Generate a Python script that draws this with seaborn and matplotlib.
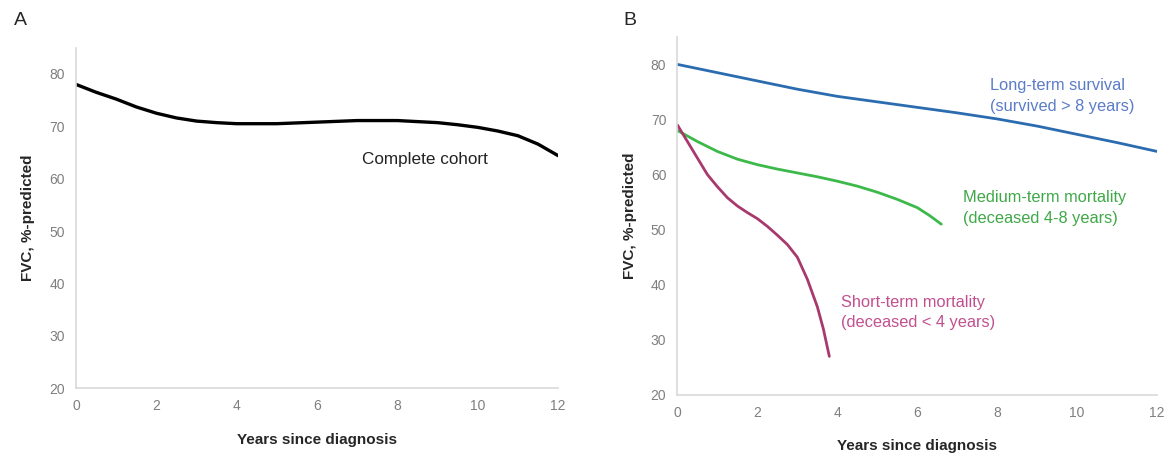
# FVC trajectories: complete cohort (A) and by survival group (B)
import pandas as pd
import matplotlib.pyplot as plt
import seaborn as sns

# panel A - complete cohort
years_all = [0, 0.5, 1, 1.5, 2, 2.5, 3, 3.5, 4, 5, 6, 7, 8, 9, 9.5, 10, 10.5, 11, 11.5, 12]
fvc_all = [78.0, 76.5, 75.2, 73.7, 72.5, 71.6, 71.0, 70.7, 70.5, 70.5, 70.8, 71.1, 71.1,
           70.7, 70.3, 69.8, 69.1, 68.2, 66.6, 64.4]

# panel B - survival groups
years_long = [0, 1, 2, 3, 4, 5, 6, 7, 8, 9, 10, 11, 12]
fvc_long = [80.0, 78.5, 77.0, 75.5, 74.2, 73.2, 72.2, 71.2, 70.1, 68.8, 67.3, 65.8, 64.2]

years_medium = [0, 0.5, 1, 1.5, 2, 2.5, 3, 3.5, 4, 4.5, 5, 5.5, 6, 6.3, 6.6]
fvc_medium = [68.0, 66.0, 64.2, 62.8, 61.8, 61.0, 60.3, 59.6, 58.8, 57.9, 56.8, 55.5, 54.0,
              52.6, 51.0]

years_short = [0, 0.25, 0.5, 0.75, 1, 1.25, 1.5, 1.75, 2, 2.25, 2.5, 2.75, 3, 3.25, 3.5,
               3.65, 3.8]
fvc_short = [69.0, 66.0, 63.0, 60.0, 57.8, 55.8, 54.3, 53.1, 52.0, 50.6, 49.0, 47.3, 45.0,
             41.0, 36.0, 32.0, 27.0]

group_names = ["Long-term survival\n(survived > 8 years)",
               "Medium-term mortality\n(deceased 4-8 years)",
               "Short-term mortality\n(deceased < 4 years)"]

x_ticks = [0, 2, 4, 6, 8, 10, 12]
y_ticks = [20, 30, 40, 50, 60, 70, 80]

sns.set_style("white")
plt.rcParams['font.family'] = ['Liberation Sans', 'DejaVu Sans']

fig = plt.figure(figsize=(11.7, 4.55), dpi=100)
ax_a = fig.add_axes([0.065, 0.147, 0.412, 0.748])
ax_b = fig.add_axes([0.579, 0.132, 0.410, 0.787])


def style_axis(ax):
    ax.set_xlim(0, 12)
    ax.set_ylim(20, 85)
    ax.set_xticks(x_ticks)
    ax.set_yticks(y_ticks)
    ax.tick_params(length=0, labelsize=10, labelcolor="#7f7f7f", pad=8)
    sns.despine(ax=ax)
    for side in ["left", "bottom"]:
        ax.spines[side].set_color("#d9d9d9")
        ax.spines[side].set_linewidth(1.2)
    ax.set_xlabel("Years since diagnosis", fontsize=11, fontweight="bold", labelpad=14)
    ax.set_ylabel("FVC, %-predicted", fontsize=11, fontweight="bold", labelpad=10)


# A
df_all = pd.DataFrame({"years": years_all, "fvc": fvc_all})
sns.lineplot(data=df_all, x="years", y="fvc", ax=ax_a, color="black", linewidth=2.4)
style_axis(ax_a)
ax_a.text(7.11, 63.7, "Complete cohort", fontsize=12.3, color="#222222", va="center")

# B
df_long = pd.DataFrame({"years": years_long, "fvc": fvc_long})
df_medium = pd.DataFrame({"years": years_medium, "fvc": fvc_medium})
df_short = pd.DataFrame({"years": years_short, "fvc": fvc_short})

line_colors = ["#2b6cb0", "#3cb94a", "#a8396e"]
text_colors = ["#5b7cc8", "#3fa848", "#c2508f"]

sns.lineplot(data=df_long, x="years", y="fvc", ax=ax_b, color=line_colors[0], linewidth=2)
sns.lineplot(data=df_medium, x="years", y="fvc", ax=ax_b, color=line_colors[1], linewidth=2)
sns.lineplot(data=df_short, x="years", y="fvc", ax=ax_b, color=line_colors[2], linewidth=2)
style_axis(ax_b)

ax_b.text(7.83, 74.3, group_names[0], fontsize=11.8, color=text_colors[0], va="center", linespacing=1.45)
ax_b.text(7.15, 53.9, group_names[1], fontsize=11.8, color=text_colors[1], va="center", linespacing=1.45)
ax_b.text(4.08, 35.0, group_names[2], fontsize=11.8, color=text_colors[2], va="center", linespacing=1.45)

# panel letters
fig.text(0.012, 0.955, "A", fontsize=14, va="center")
fig.text(0.533, 0.955, "B", fontsize=14, va="center")

fig.savefig("out.png", dpi=100)
